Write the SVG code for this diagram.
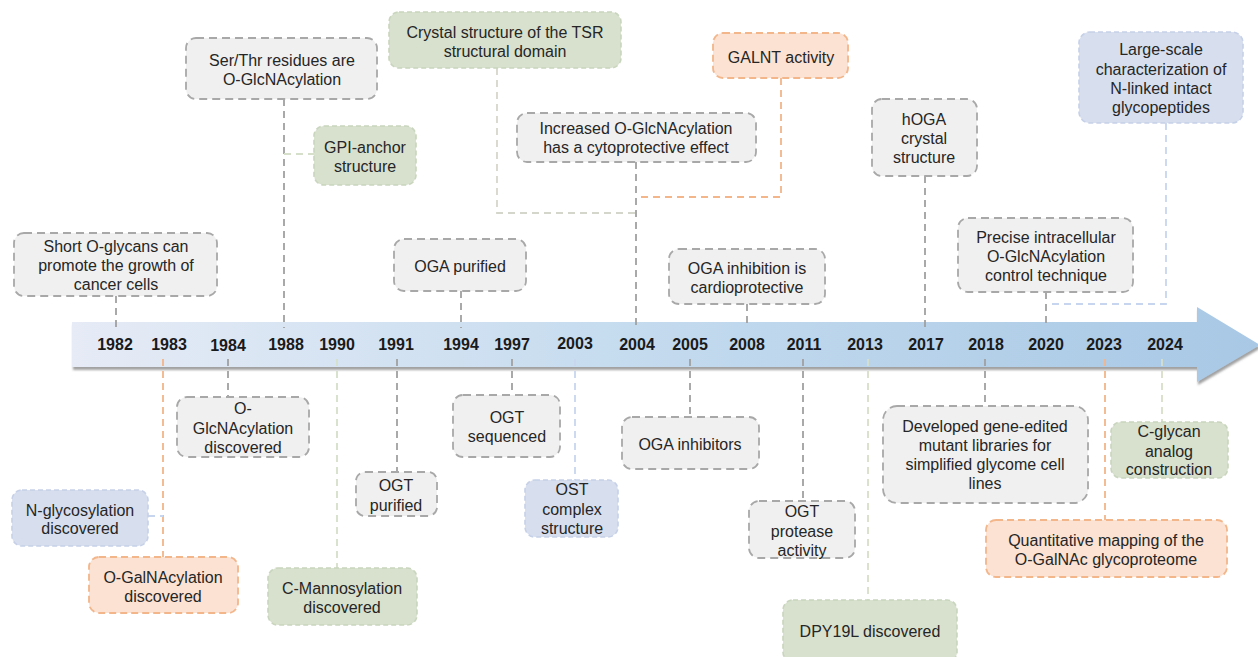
<svg xmlns="http://www.w3.org/2000/svg" width="1258" height="657" viewBox="0 0 1258 657">
<style>
text{font-family:"Liberation Sans",Arial,sans-serif;font-size:16px;fill:#262626;text-anchor:middle}
.yr{font-weight:bold;font-size:16px;fill:#1a1a1a}
.gray rect{fill:#f0f0f0;stroke:#a8a8a8;stroke-width:1.8;stroke-dasharray:8 5}
.green rect{fill:#d8e1ce;stroke:#c9d5bd;stroke-width:1.6;stroke-dasharray:5 3}
.orange rect{fill:#fbe2d2;stroke:#f3b58a;stroke-width:1.8;stroke-dasharray:7 4}
.blue rect{fill:#d7dfef;stroke:#c6d1e8;stroke-width:1.6;stroke-dasharray:5 3}
.c{fill:none;stroke-width:1.8;stroke-dasharray:7 5}
.cg{stroke:#a0a0a0}.co{stroke:#f3b58a}.cgr{stroke:#d6dfc9}.cb{stroke:#c8d5ee}.cbe{stroke:#d5d6cb}
</style>
<defs>
<linearGradient id="band" x1="72" y1="0" x2="1258" y2="0" gradientUnits="userSpaceOnUse">
<stop offset="0" stop-color="#e6ebf6"/>
<stop offset="0.45" stop-color="#c6dcef"/>
<stop offset="1" stop-color="#a8c8e5"/>
</linearGradient>
<filter id="sh" x="-5%" y="-30%" width="110%" height="160%">
<feDropShadow dx="1" dy="3" stdDeviation="1.2" flood-color="#555" flood-opacity="0.55"/>
</filter>
</defs>
<g id="timeline">
<polygon points="72,322 1197,322 1197,307 1260,345 1197,382 1197,367 72,367" fill="url(#band)" filter="url(#sh)"/>
</g>
<g id="connectors">
<path class="c cg" d="M116 296V328"/>
<path class="c cg" d="M284 99V328"/>
<path class="c cgr" d="M284 154H314"/>
<path class="c cbe" d="M497 68V213H636"/>
<path class="c co" d="M781 78V197H636"/>
<path class="c cg" d="M636 162V328"/>
<path class="c cg" d="M461 291V328"/>
<path class="c cg" d="M747 304V328"/>
<path class="c cg" d="M925 176V328"/>
<path class="c cg" d="M1046 292V328"/>
<path class="c cb" d="M1166 123V304H1049"/>
<path class="c co" d="M163 359V557"/>
<path class="c cb" d="M148 516H163"/>
<path class="c cg" d="M228 359V397"/>
<path class="c cgr" d="M337 359V568"/>
<path class="c cg" d="M397 359V472"/>
<path class="c cg" d="M512 359V395"/>
<path class="c cb" d="M575 359V480"/>
<path class="c cg" d="M690 359V417"/>
<path class="c cg" d="M803 359V501"/>
<path class="c cgr" d="M868 359V600"/>
<path class="c cg" d="M985 359V406"/>
<path class="c co" d="M1105 359V520"/>
<path class="c cgr" d="M1162 359V422"/>
</g>
<g id="years">
<text class="yr" x="115" y="350">1982</text>
<text class="yr" x="169" y="350">1983</text>
<text class="yr" x="228" y="351">1984</text>
<text class="yr" x="286" y="350">1988</text>
<text class="yr" x="337" y="350">1990</text>
<text class="yr" x="396" y="350">1991</text>
<text class="yr" x="461" y="350">1994</text>
<text class="yr" x="512" y="350">1997</text>
<text class="yr" x="575" y="349">2003</text>
<text class="yr" x="637" y="350">2004</text>
<text class="yr" x="690" y="350">2005</text>
<text class="yr" x="747" y="350">2008</text>
<text class="yr" x="804" y="350">2011</text>
<text class="yr" x="865" y="350">2013</text>
<text class="yr" x="926" y="350">2017</text>
<text class="yr" x="986" y="350">2018</text>
<text class="yr" x="1046" y="350">2020</text>
<text class="yr" x="1104" y="350">2023</text>
<text class="yr" x="1165" y="350">2024</text>
</g>
<g id="n-short" class="gray"><rect x="14" y="233" width="203" height="63" rx="10"/><text x="116" y="252">Short O-glycans can</text><text x="116" y="271">promote the growth of</text><text x="116" y="290">cancer cells</text></g>
<g id="n-serthr" class="gray"><rect x="186" y="38" width="191" height="61" rx="10"/><text x="282" y="66">Ser/Thr residues are</text><text x="282" y="85">O-GlcNAcylation</text></g>
<g id="n-gpi" class="green"><rect x="314" y="126" width="102" height="59" rx="10"/><text x="365" y="153">GPI-anchor</text><text x="365" y="172">structure</text></g>
<g id="n-tsr" class="green"><rect x="389" y="12" width="232" height="56" rx="10"/><text x="505" y="38">Crystal structure of the TSR</text><text x="505" y="57">structural domain</text></g>
<g id="n-galnt" class="orange"><rect x="713" y="33" width="135" height="45" rx="10"/><text x="781" y="63">GALNT activity</text></g>
<g id="n-increased" class="gray"><rect x="517" y="113" width="239" height="49" rx="10"/><text x="636" y="134">Increased O-GlcNAcylation</text><text x="636" y="153">has a cytoprotective effect</text></g>
<g id="n-ogapur" class="gray"><rect x="394" y="239" width="132" height="52" rx="10"/><text x="460" y="272">OGA purified</text></g>
<g id="n-ogainhib" class="gray"><rect x="669" y="249" width="156" height="55" rx="10"/><text x="747" y="274">OGA inhibition is</text><text x="747" y="293">cardioprotective</text></g>
<g id="n-hoga" class="gray"><rect x="872" y="99" width="105" height="77" rx="10"/><text x="924" y="125">hOGA</text><text x="924" y="144">crystal</text><text x="924" y="163">structure</text></g>
<g id="n-precise" class="gray"><rect x="958" y="218" width="175" height="74" rx="10"/><text x="1046" y="243">Precise intracellular</text><text x="1046" y="262">O-GlcNAcylation</text><text x="1046" y="281">control technique</text></g>
<g id="n-large" class="blue"><rect x="1079" y="32" width="164" height="91" rx="11"/><text x="1161" y="55">Large-scale</text><text x="1161" y="75">characterization of</text><text x="1161" y="94">N-linked intact</text><text x="1161" y="113">glycopeptides</text></g>
<g id="n-oglcnac" class="gray"><rect x="177" y="397" width="132" height="60" rx="10"/><text x="243" y="414">O-</text><text x="243" y="434">GlcNAcylation</text><text x="243" y="453">discovered</text></g>
<g id="n-ogtseq" class="gray"><rect x="453" y="395" width="107" height="62" rx="10"/><text x="507" y="423">OGT</text><text x="507" y="442">sequenced</text></g>
<g id="n-ogainhibitors" class="gray"><rect x="622" y="417" width="137" height="52" rx="10"/><text x="690" y="450">OGA inhibitors</text></g>
<g id="n-developed" class="gray"><rect x="883" y="406" width="205" height="97" rx="14"/><text x="985" y="432">Developed gene-edited</text><text x="985" y="451">mutant libraries for</text><text x="985" y="470">simplified glycome cell</text><text x="985" y="489">lines</text></g>
<g id="n-cglycan" class="green"><rect x="1111" y="422" width="117" height="56" rx="10"/><text x="1169" y="437">C-glycan</text><text x="1169" y="457">analog</text><text x="1169" y="475">construction</text></g>
<g id="n-nglyc" class="blue"><rect x="12" y="490" width="136" height="56" rx="10"/><text x="80" y="516">N-glycosylation</text><text x="80" y="534">discovered</text></g>
<g id="n-ogalnac" class="orange"><rect x="89" y="557" width="149" height="56" rx="10"/><text x="163" y="583">O-GalNAcylation</text><text x="163" y="602">discovered</text></g>
<g id="n-ogtpur" class="gray"><rect x="356" y="472" width="81" height="44" rx="9"/><text x="396" y="491">OGT</text><text x="396" y="511">purified</text></g>
<g id="n-cmann" class="green"><rect x="268" y="568" width="149" height="57" rx="10"/><text x="342" y="594">C-Mannosylation</text><text x="342" y="613">discovered</text></g>
<g id="n-ost" class="blue"><rect x="525" y="480" width="93" height="57" rx="10"/><text x="572" y="495">OST</text><text x="572" y="515">complex</text><text x="572" y="534">structure</text></g>
<g id="n-ogtprot" class="gray"><rect x="749" y="501" width="106" height="57" rx="10"/><text x="802" y="517">OGT</text><text x="802" y="537">protease</text><text x="802" y="556">activity</text></g>
<g id="n-dpy19l" class="green"><rect x="783" y="600" width="174" height="62" rx="10"/><text x="870" y="637">DPY19L discovered</text></g>
<g id="n-quant" class="orange"><rect x="986" y="520" width="241" height="57" rx="10"/><text x="1106" y="546">Quantitative mapping of the</text><text x="1106" y="565">O-GalNAc glycoproteome</text></g>
</svg>
